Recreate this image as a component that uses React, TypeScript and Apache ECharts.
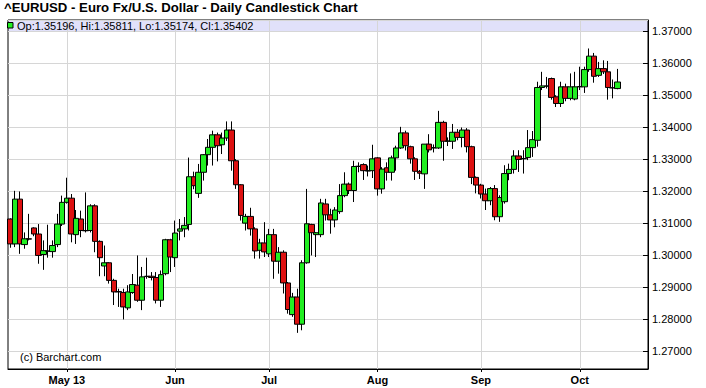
import React, { useEffect, useRef } from "react";
import * as echarts from "echarts";

const TITLE = "^EURUSD - Euro Fx/U.S. Dollar - Daily Candlestick Chart";
const COPYRIGHT = "(c) Barchart.com";
const FIRST_DATE = "2013-04-15";
const SLOT_COUNT = 136; // trading-day slots on the axis (data + empty space at right)
const MONTH_TICK_LABELS = ["May 13", "Jun", "Jul", "Aug", "Sep", "Oct"];
const MONTH_TICK_MONTHS = [4, 5, 6, 7, 8, 9];

const OPEN = [
  1.3112, 1.3034, 1.3174, 1.3032, 1.305, 1.3084, 1.3065, 1.3001, 1.3011, 1.301,
  1.3032, 1.3096, 1.3164, 1.3177, 1.3063, 1.3112, 1.3076, 1.3076, 1.3153, 1.3042,
  1.2965, 1.2975, 1.292, 1.2885, 1.2882, 1.2834, 1.2882, 1.2905, 1.2858, 1.2932,
  1.2933, 1.2929, 1.2858, 1.2941, 1.3047, 1.2991, 1.3074, 1.3081, 1.3095, 1.3244,
  1.3192, 1.3258, 1.3313, 1.3336, 1.3375, 1.3344, 1.3365, 1.339, 1.3294, 1.3219,
  1.3099, 1.312, 1.3081, 1.3014, 1.3037, 1.3003, 1.3063, 1.298, 1.3008, 1.2912,
  1.2813, 1.2868, 1.2783, 1.2975, 1.3095, 1.3063, 1.3063, 1.3159, 1.3125, 1.3109,
  1.3135, 1.3185, 1.3221, 1.3201, 1.3276, 1.3282, 1.3262, 1.3263, 1.3303, 1.3206,
  1.3272, 1.3258, 1.3303, 1.3334, 1.3381, 1.3338, 1.33, 1.3261, 1.3253, 1.3346,
  1.3334, 1.3334, 1.3414, 1.3355, 1.3355, 1.3383, 1.3367, 1.339, 1.3338, 1.3242,
  1.3218, 1.319, 1.3169, 1.3207, 1.3119, 1.3166, 1.3254, 1.3267, 1.3309, 1.33,
  1.3304, 1.3335, 1.3358, 1.3523, 1.3527, 1.3551, 1.3494, 1.3473, 1.3525, 1.3489,
  1.3487, 1.3525, 1.3525, 1.3579, 1.3621, 1.3561, 1.3582, 1.3572, 1.3522, 1.35196,
];
const HIGH = [
  1.3114, 1.32, 1.3198, 1.307, 1.3128, 1.3086, 1.3096, 1.3045, 1.3094, 1.3045,
  1.3128, 1.3185, 1.3241, 1.319, 1.314, 1.3138, 1.3195, 1.3158, 1.3158, 1.3045,
  1.3029, 1.2977, 1.2925, 1.2894, 1.2894, 1.2905, 1.294, 1.2998, 1.2962, 1.2991,
  1.2946, 1.2946, 1.2951, 1.305, 1.305, 1.3107, 1.3112, 1.3118, 1.3304, 1.326,
  1.3284, 1.3315, 1.3362, 1.3388, 1.3382, 1.3382, 1.3417, 1.3417, 1.3299, 1.3221,
  1.3128, 1.3147, 1.3086, 1.305, 1.3102, 1.3081, 1.3081, 1.3024, 1.3014, 1.2915,
  1.2881, 1.2894, 1.2983, 1.3206, 1.3097, 1.3071, 1.3175, 1.3175, 1.3144, 1.3149,
  1.3221, 1.3258, 1.3226, 1.3294, 1.3289, 1.3286, 1.3279, 1.3344, 1.3305, 1.3274,
  1.3289, 1.331, 1.3341, 1.34, 1.3388, 1.3341, 1.3305, 1.3265, 1.3346, 1.3377,
  1.3345, 1.345, 1.3419, 1.3367, 1.3409, 1.3393, 1.3398, 1.3396, 1.3341, 1.3245,
  1.3222, 1.3207, 1.3212, 1.3218, 1.3186, 1.328, 1.3285, 1.3327, 1.3327, 1.3327,
  1.339, 1.3387, 1.3541, 1.3572, 1.3556, 1.3554, 1.3499, 1.3541, 1.3535, 1.3567,
  1.3572, 1.3588, 1.3588, 1.3645, 1.3631, 1.3603, 1.3608, 1.3606, 1.3548, 1.35811,
];
const LOW = [
  1.3022, 1.3024, 1.3003, 1.3019, 1.3045, 1.3058, 1.2972, 1.2953, 1.2991, 1.2991,
  1.3024, 1.309, 1.316, 1.3039, 1.3034, 1.3055, 1.307, 1.307, 1.3008, 1.2933,
  1.2933, 1.291, 1.2843, 1.2837, 1.2798, 1.2827, 1.2878, 1.2853, 1.2827, 1.2925,
  1.292, 1.2848, 1.2837, 1.2936, 1.2946, 1.2962, 1.3045, 1.3055, 1.3076, 1.3205,
  1.3178, 1.3232, 1.3279, 1.3279, 1.3292, 1.3315, 1.3356, 1.3263, 1.3206, 1.3107,
  1.3076, 1.306, 1.2988, 1.2988, 1.2993, 1.2993, 1.2925, 1.2941, 1.2879, 1.2816,
  1.2806, 1.2756, 1.2764, 1.2972, 1.2998, 1.2993, 1.3055, 1.3107, 1.3066, 1.3086,
  1.3128, 1.318, 1.319, 1.3165, 1.3258, 1.3234, 1.3245, 1.324, 1.3185, 1.3191,
  1.3232, 1.3232, 1.3263, 1.3331, 1.3326, 1.3285, 1.3234, 1.3237, 1.3206, 1.332,
  1.332, 1.3331, 1.3294, 1.334, 1.3331, 1.3358, 1.3336, 1.332, 1.3221, 1.3192,
  1.3176, 1.314, 1.3155, 1.3108, 1.3103, 1.316, 1.3233, 1.3254, 1.3259, 1.3254,
  1.3296, 1.3306, 1.3338, 1.3515, 1.352, 1.3485, 1.3462, 1.3462, 1.348, 1.3483,
  1.3483, 1.3515, 1.3506, 1.3572, 1.3538, 1.3556, 1.3565, 1.3485, 1.3489, 1.35174,
];
const CLOSE = [
  1.3034, 1.3174, 1.3034, 1.305, 1.3049, 1.3065, 1.2998, 1.3013, 1.3012, 1.3029,
  1.3096, 1.3164, 1.3177, 1.3065, 1.3114, 1.3076, 1.3075, 1.3153, 1.3042, 1.2991,
  1.2975, 1.292, 1.2884, 1.2884, 1.2837, 1.2884, 1.2907, 1.2858, 1.2931, 1.2933,
  1.2929, 1.2858, 1.2938, 1.3047, 1.2993, 1.3068, 1.3081, 1.3092, 1.3244, 1.3216,
  1.3258, 1.3313, 1.3336, 1.3375, 1.3341, 1.3365, 1.339, 1.3294, 1.3219, 1.3123,
  1.312, 1.3081, 1.3012, 1.3037, 1.3009, 1.3063, 1.298, 1.3008, 1.2912, 1.2829,
  1.2868, 1.2783, 1.2975, 1.3097, 1.3069, 1.3069, 1.3162, 1.3125, 1.3109, 1.314,
  1.3185, 1.3221, 1.3201, 1.3276, 1.3277, 1.3263, 1.3263, 1.33, 1.3206, 1.3268,
  1.3258, 1.3303, 1.3334, 1.3381, 1.3341, 1.33, 1.3261, 1.3255, 1.3346, 1.3328,
  1.3335, 1.3414, 1.3355, 1.3356, 1.3383, 1.3367, 1.339, 1.3338, 1.3242, 1.3218,
  1.319, 1.3169, 1.3207, 1.3119, 1.3179, 1.3254, 1.3267, 1.3309, 1.3298, 1.3301,
  1.3335, 1.336, 1.3523, 1.3528, 1.3528, 1.3492, 1.3473, 1.3525, 1.3489, 1.3525,
  1.3525, 1.3526, 1.3579, 1.3621, 1.3558, 1.3582, 1.3572, 1.3523, 1.3522, 1.35402,
];

const FONT = '"Liberation Sans", Arial, Helvetica, sans-serif';
const GREEN = "#22ee22";
const RED = "#dd1111";
const GRID_COLOR = "#d6d6d6";

function buildDates(): string[] {
  const out: string[] = [];
  const d = new Date(FIRST_DATE + "T00:00:00Z");
  while (out.length < SLOT_COUNT) {
    const wd = d.getUTCDay();
    if (wd !== 0 && wd !== 6) out.push(d.toISOString().slice(0, 10));
    d.setUTCDate(d.getUTCDate() + 1);
  }
  return out;
}

export default function App() {
  const ref = useRef<HTMLDivElement>(null);

  useEffect(() => {
    if (!ref.current) return;
    const chart = echarts.init(ref.current, null, { renderer: "svg" });
    const dates = buildDates();
    const monthOf = (s: string) => Number(s.slice(5, 7)) - 1;
    const tickLabel: Record<number, string> = {};
    dates.forEach((s, i) => {
      if (i > 0 && monthOf(s) !== monthOf(dates[i - 1])) {
        const k = MONTH_TICK_MONTHS.indexOf(monthOf(s));
        if (k >= 0) tickLabel[i] = MONTH_TICK_LABELS[k];
      }
    });
    const isTick = (i: number) => tickLabel[i] !== undefined;
    const candles = OPEN.map((o, i) => [o, CLOSE[i], LOW[i], HIGH[i]]);
    const n = OPEN.length - 1;
    const legendText = `Op:${OPEN[n].toFixed(5)}, Hi:${HIGH[n].toFixed(5)}, Lo:${LOW[n].toFixed(5)}, Cl:${CLOSE[n].toFixed(5)}`;

    const monthLines = Object.keys(tickLabel).map((k) => ({
      xAxis: dates[Number(k)],
      lineStyle: { color: GRID_COLOR, width: 1, type: "solid" },
      label: { show: false },
    }));

    chart.setOption({
      animation: false,
      backgroundColor: "#ffffff",
      grid: {
        left: 8,
        right: 58,
        top: 20,
        bottom: 19,
        show: true,
        borderColor: "#000",
        borderWidth: 1,
        backgroundColor: "transparent",
      },
      graphic: [
        {
          type: "rect",
          z: -10,
          shape: { x: 8, y: 20, width: 640, height: 12 },
          style: { fill: "#e1e1fa" },
          silent: true,
        },
        {
          type: "text",
          left: 4,
          top: 1,
          z: 100,
          style: {
            text: TITLE,
            font: `bold 13.2px ${FONT}`,
            fill: "#000",
          },
        },
        {
          type: "rect",
          z: 100,
          shape: { x: 7.5, y: 22.5, width: 5.5, height: 5.5 },
          style: { fill: GREEN, stroke: "#000", lineWidth: 1 },
        },
        {
          type: "text",
          z: 100,
          x: 17,
          y: 25.5,
          style: {
            text: legendText,
            font: `11px ${FONT}`,
            fill: "#000",
            verticalAlign: "middle",
          },
        },
        {
          type: "text",
          z: 100,
          x: 20,
          y: 356.5,
          style: {
            text: COPYRIGHT,
            font: `11px ${FONT}`,
            fill: "#000",
            verticalAlign: "middle",
          },
        },
      ],
      xAxis: {
        type: "category",
        data: dates,
        boundaryGap: true,
        axisLine: { show: true, lineStyle: { color: "#000", width: 1 } },
        axisTick: {
          show: true,
          alignWithLabel: true,
          interval: (i: number) => isTick(i),
          length: 3,
          lineStyle: { color: "#000" },
        },
        axisLabel: {
          interval: (i: number) => isTick(i),
          formatter: (_v: string, i: number) => tickLabel[i] ?? "",
          fontFamily: FONT,
          fontSize: 11,
          fontWeight: "bold",
          color: "#000",
          margin: 5,
        },
        splitLine: { show: false },
      },
      yAxis: {
        type: "value",
        position: "right",
        min: 1.2643,
        max: 1.3734,
        scale: true,
        splitNumber: 10,
        minInterval: 0.01,
        maxInterval: 0.01,
        axisLine: { show: true, lineStyle: { color: "#000", width: 1 } },
        axisTick: { show: true, inside: true, length: 5, lineStyle: { color: "#000" } },
        axisLabel: {
          formatter: (v: number) => v.toFixed(5),
          fontFamily: FONT,
          fontSize: 11,
          color: "#000",
          margin: 4,
          showMinLabel: false,
          showMaxLabel: false,
        },
        splitLine: { show: true, lineStyle: { color: GRID_COLOR, width: 1 } },
      },
      series: [
        {
          type: "candlestick",
          data: candles,
          barWidth: 6,
          clip: false,
          itemStyle: {
            color: GREEN,
            color0: RED,
            borderColor: "#000",
            borderColor0: "#000",
            borderWidth: 1,
          },
          markLine: {
            z: 1,
            silent: true,
            symbol: "none",
            precision: 5,
            data: [
              ...monthLines,
              {
                yAxis: CLOSE[n],
                lineStyle: { opacity: 0, width: 0 },
                label: {
                  show: true,
                  position: "end",
                  distance: 4,
                  formatter: CLOSE[n].toFixed(5),
                  color: "#fff",
                  backgroundColor: "#000",
                  padding: [1, 1, 0, 1],
                  fontFamily: FONT,
                  fontSize: 11,
                  lineHeight: 10,
                },
              },
            ],
          },
        },
      ],
    });
    return () => chart.dispose();
  }, []);

  return (
    <div
      ref={ref}
      style={{ position: "fixed", left: 0, top: 0, width: 706, height: 388, background: "#fff" }}
    />
  );
}
